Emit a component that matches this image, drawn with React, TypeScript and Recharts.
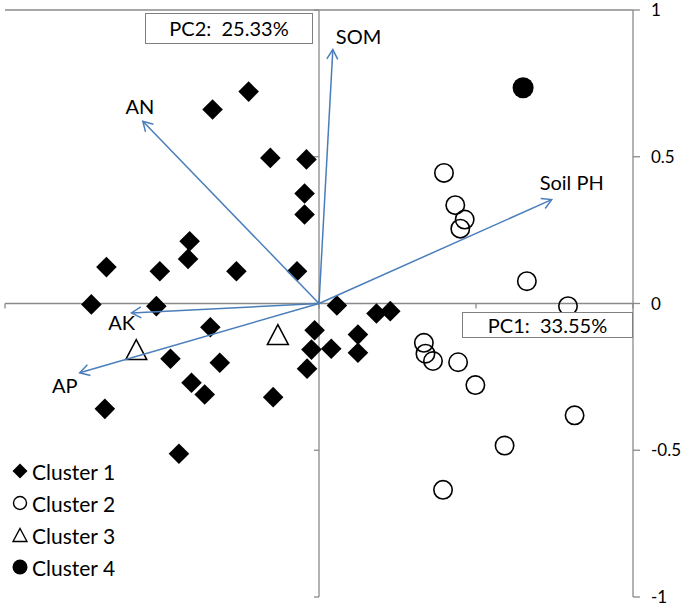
import React from 'react';
import { ScatterChart, Scatter, XAxis, YAxis, ReferenceLine, ReferenceDot } from 'recharts';

// ---- data (PC1, PC2 scores) ----
const cluster1: [number, number][] = [
  [-0.224, 0.722], [-0.339, 0.661], [-0.155, 0.496], [-0.040, 0.491], [-0.046, 0.375],
  [-0.046, 0.303], [-0.412, 0.212], [-0.417, 0.152], [-0.677, 0.124], [-0.507, 0.110],
  [-0.263, 0.110], [-0.070, 0.110], [-0.725, -0.003], [-0.518, -0.009], [0.057, -0.007],
  [0.183, -0.034], [0.227, -0.026], [-0.346, -0.081], [-0.014, -0.091], [0.124, -0.106],
  [-0.024, -0.157], [0.039, -0.154], [0.124, -0.168], [-0.473, -0.188], [-0.316, -0.202],
  [-0.038, -0.222], [-0.406, -0.270], [-0.364, -0.310], [-0.146, -0.319], [-0.682, -0.359],
  [-0.446, -0.512],
];
const cluster2: [number, number][] = [
  [0.398, 0.445], [0.434, 0.335], [0.464, 0.286], [0.450, 0.255], [0.662, 0.076],
  [0.793, -0.009], [0.334, -0.134], [0.339, -0.171], [0.363, -0.196], [0.443, -0.200],
  [0.498, -0.278], [0.814, -0.381], [0.591, -0.484], [0.395, -0.635],
];
const cluster3: [number, number][] = [
  [-0.131, -0.106], [-0.582, -0.157],
];
const cluster4: [number, number][] = [
  [0.650, 0.735],
];

const loadingNames = ['SOM', 'Soil PH', 'AN', 'AK', 'AP'];
const loadingX = [0.044, 0.741, -0.561, -0.597, -0.762];
const loadingY = [0.865, 0.354, 0.621, -0.032, -0.236];

const axisTicks = [-1, -0.5, 0, 0.5, 1];
const clusterNames = ['Cluster 1', 'Cluster 2', 'Cluster 3', 'Cluster 4'];
const pc1Label = 'PC1:  33.55%';
const pc2Label = 'PC2:  25.33%';

// ---- styles ----
const FONT = 'Lato, "Open Sans", sans-serif';
const GREY = '#8a8a8a';
const BLUE = '#4a7ebb';
const labelOffsets: Record<string, { dx: number; dy: number; anchor: 'start' | 'middle' | 'end' }> = {
  'SOM': { dx: 3, dy: -6, anchor: 'start' },
  'Soil PH': { dx: 20, dy: -10, anchor: 'middle' },
  'AN': { dx: -3, dy: -7, anchor: 'middle' },
  'AK': { dx: -10, dy: 17, anchor: 'middle' },
  'AP': { dx: -15, dy: 20, anchor: 'middle' },
};

const toPts = (arr: [number, number][]) => arr.map(([x, y]) => ({ x, y }));

const Diamond = (p: any) => {
  const h = 10.3;
  return (
    <polygon
      points={`${p.cx},${p.cy - h} ${p.cx + h},${p.cy} ${p.cx},${p.cy + h} ${p.cx - h},${p.cy}`}
      fill="#000"
    />
  );
};
const OpenCircle = (p: any) => (
  <circle cx={p.cx} cy={p.cy} r={9.2} fill="none" stroke="#000" strokeWidth={1.6} />
);
const OpenTriangle = (p: any) => (
  <polygon
    points={`${p.cx},${p.cy - 10} ${p.cx + 10.5},${p.cy + 10} ${p.cx - 10.5},${p.cy + 10}`}
    fill="none"
    stroke="#000"
    strokeWidth={1.5}
  />
);
const FilledCircle = (p: any) => <circle cx={p.cx} cy={p.cy} r={10.5} fill="#000" />;

const makeArrow = (name: string) => (props: any) => {
  const { x1, y1, x2, y2 } = props;
  const ang = Math.atan2(y2 - y1, x2 - x1);
  const L = 11;
  const a = Math.PI / 6;
  const ax = x2 - L * Math.cos(ang - a);
  const ay = y2 - L * Math.sin(ang - a);
  const bx = x2 - L * Math.cos(ang + a);
  const by = y2 - L * Math.sin(ang + a);
  const off = labelOffsets[name];
  return (
    <g>
      <line x1={x1} y1={y1} x2={x2} y2={y2} stroke={BLUE} strokeWidth={1.5} />
      <polyline points={`${ax},${ay} ${x2},${y2} ${bx},${by}`} fill="none" stroke={BLUE} strokeWidth={1.5} />
      <text x={x2 + off.dx} y={y2 + off.dy} textAnchor={off.anchor} fontFamily={FONT} fontSize={20} fill="#000">
        {name}
      </text>
    </g>
  );
};

const legendIcons = [
  <polygon key="d" points="8,0.5 15.5,8 8,15.5 0.5,8" fill="#000" />,
  <circle key="c" cx={8} cy={8} r={6.5} fill="none" stroke="#000" strokeWidth={1.4} />,
  <polygon key="t" points="8,1.5 15,14.5 1,14.5" fill="none" stroke="#000" strokeWidth={1.4} />,
  <circle key="f" cx={8} cy={8} r={7.5} fill="#000" />,
];
const legendCenters = [471, 503, 535, 567];

export default function App() {
  return (
    <div style={{ position: 'absolute', left: 0, top: 0, width: 685, height: 608, fontFamily: FONT, background: '#fff' }}>
      <ScatterChart width={685} height={608} margin={{ top: 10, right: 0, left: 5, bottom: 11 }}>
        <XAxis type="number" dataKey="x" domain={[-1, 1]} ticks={axisTicks} hide />
        <YAxis
          type="number"
          dataKey="y"
          domain={[-1, 1]}
          ticks={axisTicks}
          interval={0}
          orientation="right"
          width={52}
          axisLine={{ stroke: GREY, strokeWidth: 1.3 }}
          tickLine={{ stroke: GREY, strokeWidth: 1.3 }}
          tickSize={7}
          tickMargin={11}
          tick={{ fill: '#000', fontSize: 17, fontFamily: FONT }}
          tickFormatter={(v: number) => String(v)}
        />
        <ReferenceLine y={1} stroke={GREY} strokeWidth={1.3} />
        <ReferenceLine y={0} stroke={GREY} strokeWidth={1.3} />
        <ReferenceLine x={0} stroke={GREY} strokeWidth={1.3} />
        {axisTicks.map((t) => (
          <ReferenceDot
            key={'xt' + t}
            x={t}
            y={0}
            r={0}
            shape={(p: any) => <line x1={p.cx} y1={p.cy} x2={p.cx} y2={p.cy + 5} stroke={GREY} strokeWidth={1.3} />}
          />
        ))}
        {axisTicks.map((t) => (
          <ReferenceDot
            key={'yt' + t}
            x={0}
            y={t}
            r={0}
            shape={(p: any) => <line x1={p.cx - 5} y1={p.cy} x2={p.cx} y2={p.cy} stroke={GREY} strokeWidth={1.3} />}
          />
        ))}
        <Scatter name={clusterNames[0]} data={toPts(cluster1)} shape={Diamond} isAnimationActive={false} />
        <Scatter name={clusterNames[1]} data={toPts(cluster2)} shape={OpenCircle} isAnimationActive={false} />
        <Scatter name={clusterNames[2]} data={toPts(cluster3)} shape={OpenTriangle} isAnimationActive={false} />
        <Scatter name={clusterNames[3]} data={toPts(cluster4)} shape={FilledCircle} isAnimationActive={false} />
        {loadingNames.map((n, i) => (
          <ReferenceLine
            key={n}
            segment={[{ x: 0, y: 0 }, { x: loadingX[i], y: loadingY[i] }]}
            shape={makeArrow(n)}
            zIndex={2000}
          />
        ))}
      </ScatterChart>

      <div
        style={{
          position: 'absolute', left: 145, top: 13, width: 168, height: 31, boxSizing: 'border-box',
          border: '1.3px solid #808080', background: '#fff', fontSize: 20, lineHeight: '28px',
          textAlign: 'center', whiteSpace: 'pre', color: '#000',
        }}
      >
        {pc2Label}
      </div>
      <div
        style={{
          position: 'absolute', left: 462, top: 312, width: 171, height: 26, boxSizing: 'border-box',
          border: '1.3px solid #808080', background: '#fff', fontSize: 20, lineHeight: '24px',
          textAlign: 'center', whiteSpace: 'pre', color: '#000',
        }}
      >
        {pc1Label}
      </div>

      {clusterNames.map((n, i) => (
        <div
          key={n}
          style={{
            position: 'absolute', left: 12, top: legendCenters[i] - 16, height: 32,
            display: 'flex', alignItems: 'center', fontSize: 21, color: '#000', whiteSpace: 'nowrap',
          }}
        >
          <svg width={16} height={16} style={{ marginRight: 4 }}>{legendIcons[i]}</svg>
          <span>{n}</span>
        </div>
      ))}
    </div>
  );
}
